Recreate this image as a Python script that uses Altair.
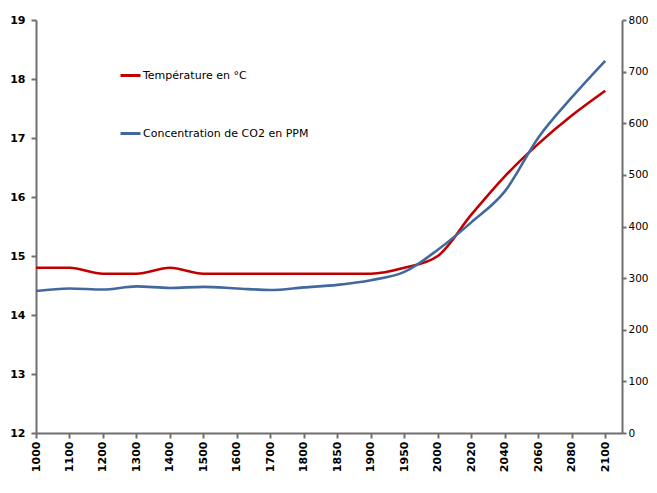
import altair as alt
import pandas as pd

years = ["1000", "1100", "1200", "1300", "1400", "1500", "1600", "1700", "1800",
         "1850", "1900", "1950", "2000", "2020", "2040", "2060", "2080", "2100"]
temperature = [14.8, 14.8, 14.7, 14.7, 14.8, 14.7, 14.7, 14.7, 14.7,
               14.7, 14.7, 14.8, 15.0, 15.7, 16.35, 16.9, 17.38, 17.8]
co2 = [275, 280, 278, 284, 281, 283, 280, 277, 282,
       287, 296, 312, 355, 408, 468, 572, 650, 721]

temp_name = "Température en °C"
co2_name = "Concentration de CO2 en PPM"

df = pd.DataFrame({
    "idx": list(range(len(years))),
    "year": years,
    "temp": temperature,
    "co2": co2,
})

label_expr = "[" + ",".join("'%s'" % y for y in years) + "][datum.value]"

font = "DejaVu Sans"

x_enc = alt.X(
    "idx:Q",
    scale=alt.Scale(domain=[0, len(years) - 0.5], nice=False, zero=False),
    axis=alt.Axis(
        values=list(range(len(years))), labelExpr=label_expr, title=None,
        labelAngle=-90, labelAlign="right", labelBaseline="middle",
        labelFontWeight="bold", labelFont=font, labelFontSize=11, labelColor="#000000",
        grid=False, domainColor="#6f6f6f", domainWidth=2, tickColor="#6f6f6f",
        tickWidth=2, tickSize=5, labelPadding=3,
    ),
)

color_scale = alt.Scale(domain=[temp_name, co2_name], range=["#C00000", "#41699F"])

legend = alt.Legend(
    title=None, orient="none", legendX=83, legendY=44, direction="vertical",
    symbolType="stroke", symbolSize=400, symbolStrokeWidth=3, rowPadding=40,
    labelFont=font, labelFontSize=11, labelColor="#000000", labelOffset=1,
    labelLimit=0,
)

temp_line = alt.Chart(df).mark_line(strokeWidth=2.6, interpolate="monotone").transform_calculate(
    series="'%s'" % temp_name
).encode(
    x=x_enc,
    y=alt.Y("temp:Q", scale=alt.Scale(domain=[12, 19], nice=False, zero=False),
            axis=alt.Axis(values=list(range(12, 20)), title=None, orient="left", grid=False,
                          labelFont=font, labelFontSize=11, labelFontWeight="bold",
                          labelColor="#000000", domainColor="#6f6f6f", domainWidth=2,
                          tickColor="#6f6f6f", tickWidth=2, tickSize=5, labelPadding=6)),
    color=alt.Color("series:N", scale=color_scale, legend=legend),
)

co2_line = alt.Chart(df).mark_line(strokeWidth=2.6, interpolate="monotone").transform_calculate(
    series="'%s'" % co2_name
).encode(
    x=x_enc,
    y=alt.Y("co2:Q", scale=alt.Scale(domain=[0, 800], nice=False),
            axis=alt.Axis(values=list(range(0, 801, 100)), title=None, orient="right", grid=False,
                          labelFont=font, labelFontSize=10.5, labelColor="#000000",
                          domainColor="#6f6f6f", domainWidth=2,
                          tickColor="#6f6f6f", tickWidth=2, tickSize=4, labelPadding=2)),
    color=alt.Color("series:N", scale=color_scale, legend=legend),
)

chart = alt.layer(temp_line, co2_line).resolve_scale(y="independent").properties(
    width=586, height=413,
    autosize=alt.AutoSizeParams(type="none"),
    padding={"left": 28, "top": 12, "right": 27, "bottom": 52},
    background="white",
).configure_view(stroke=None)

chart.save("out.html", embed_options={"renderer": "svg", "actions": False})
